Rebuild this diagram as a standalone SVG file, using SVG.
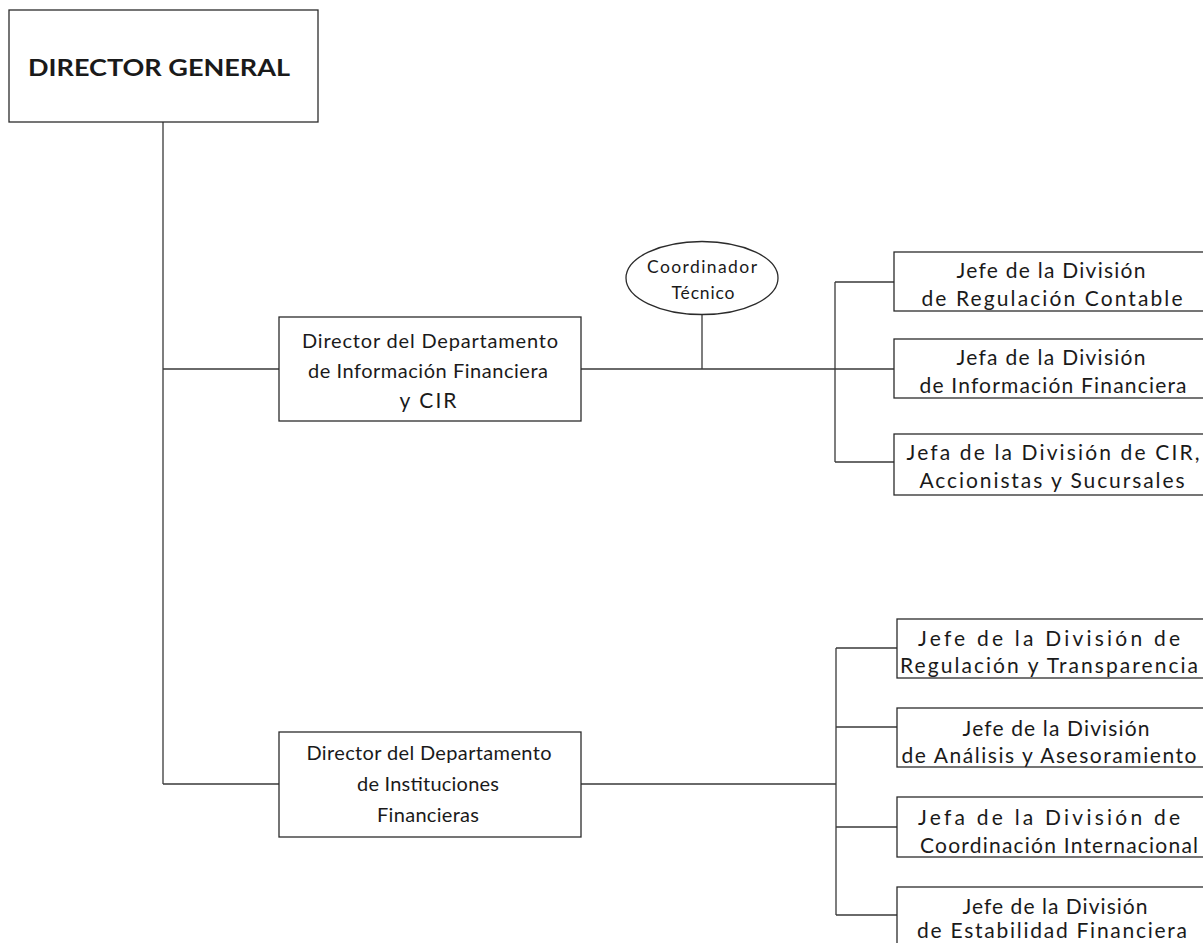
<svg xmlns="http://www.w3.org/2000/svg" width="1203" height="943" viewBox="0 0 1203 943">
<style>
.box{fill:#fff;stroke:#2b2b2b;stroke-width:1.3}
.ln{fill:none;stroke:#3a3a3a;stroke-width:1.3}
text{font-family:Lato,"Open Sans","Liberation Sans",sans-serif;fill:#1a1a1a;text-anchor:middle}
.t{font-size:21px}
.d{font-size:20px}
.e{font-size:17.5px}
.b{font-size:22px;font-weight:bold}
</style>
<rect width="1203" height="943" fill="#fff"/>
<g id="connectors">
<path class="ln" d="M163 122V784M163 369H279M163 784H279M581 369H835M702 315V369M835 282V462M835 282H894M835 369H894M835 462H894M581 784H836M836 648V915M836 648H897M836 727H897M836 827H897M836 915H897"/>
</g>
<g id="director-general">
<rect class="box" x="9" y="10" width="309" height="112"/>
<text class="b" x="159" y="76" textLength="262" lengthAdjust="spacingAndGlyphs">DIRECTOR GENERAL</text>
</g>
<g id="dept-informacion">
<rect class="box" x="279" y="317" width="302" height="104"/>
<text class="d" x="430" y="348" textLength="256" lengthAdjust="spacing">Director del Departamento</text>
<text class="d" x="428" y="378" textLength="240" lengthAdjust="spacing">de Información Financiera</text>
<text class="d" x="428" y="408" textLength="57" lengthAdjust="spacing" style="font-size:21px">y CIR</text>
</g>
<g id="coordinador">
<ellipse class="box" cx="702" cy="278" rx="76" ry="36.5"/>
<text class="e" x="702" y="273" textLength="110" lengthAdjust="spacing">Coordinador</text>
<text class="e" x="703" y="299" textLength="63" lengthAdjust="spacing">Técnico</text>
</g>
<g id="jefe-regulacion-contable">
<rect class="box" x="894" y="252" width="314" height="59"/>
<text class="t" x="1051" y="278" textLength="189" lengthAdjust="spacing">Jefe de la División</text>
<text class="t" x="1052" y="306" textLength="261" lengthAdjust="spacing">de Regulación Contable</text>
</g>
<g id="jefa-informacion-financiera">
<rect class="box" x="894" y="339" width="314" height="59"/>
<text class="t" x="1051" y="365" textLength="189" lengthAdjust="spacing">Jefa de la División</text>
<text class="t" x="1053" y="393" textLength="267" lengthAdjust="spacing">de Información Financiera</text>
</g>
<g id="jefa-cir">
<rect class="box" x="894" y="434" width="314" height="61"/>
<text class="t" x="1053" y="460" textLength="293" lengthAdjust="spacing">Jefa de la División de CIR,</text>
<text class="t" x="1052" y="488" textLength="265" lengthAdjust="spacing">Accionistas y Sucursales</text>
</g>
<g id="dept-instituciones">
<rect class="box" x="279" y="732" width="302" height="105"/>
<text class="d" x="429" y="760" textLength="245" lengthAdjust="spacing">Director del Departamento</text>
<text class="d" x="428" y="791" textLength="142" lengthAdjust="spacing">de Instituciones</text>
<text class="d" x="428" y="822" textLength="102" lengthAdjust="spacing">Financieras</text>
</g>
<g id="jefe-regulacion-transparencia">
<rect class="box" x="897" y="619" width="314" height="59"/>
<text class="t" x="1049" y="646" textLength="262" lengthAdjust="spacing">Jefe de la División de</text>
<text class="t" x="1049" y="673" textLength="298" lengthAdjust="spacing">Regulación y Transparencia</text>
</g>
<g id="jefe-analisis">
<rect class="box" x="897" y="708" width="314" height="59"/>
<text class="t" x="1056" y="736" textLength="187" lengthAdjust="spacing">Jefe de la División</text>
<text class="t" x="1049" y="763" textLength="295" lengthAdjust="spacing">de Análisis y Asesoramiento</text>
</g>
<g id="jefa-coordinacion">
<rect class="box" x="897" y="797" width="314" height="60"/>
<text class="t" x="1049" y="825" textLength="262" lengthAdjust="spacing">Jefa de la División de</text>
<text class="t" x="1059" y="853" textLength="278" lengthAdjust="spacing">Coordinación Internacional</text>
</g>
<g id="jefe-estabilidad">
<rect class="box" x="897" y="887" width="314" height="60"/>
<text class="t" x="1055" y="914" textLength="185" lengthAdjust="spacing">Jefe de la División</text>
<text class="t" x="1052" y="938" textLength="270" lengthAdjust="spacing">de Estabilidad Financiera</text>
</g>
</svg>
